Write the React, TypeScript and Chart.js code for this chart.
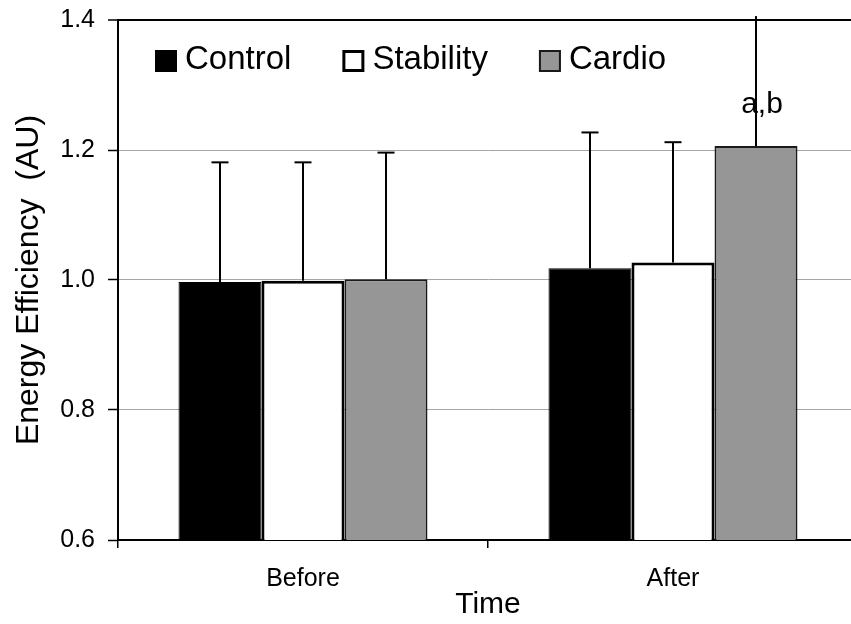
import { useEffect, useRef } from "react";
import { Chart, registerables } from "chart.js";

Chart.register(...registerables);

// Energy efficiency before / after training, by group
const categories = ["Before", "After"];
const seriesNames = ["Control", "Stability", "Cardio"];
const controlMean = [0.997, 1.018];
const stabilityMean = [0.999, 1.027];
const cardioMean = [1.001, 1.206];
const controlSD = [0.184, 0.209];
const stabilitySD = [0.182, 0.185];
const cardioSD = [0.195, 0.2];
const cardioNotes = ["", "a,b"];
const yTickValues = [0.6, 0.8, 1.0, 1.2, 1.4];

const FONT = "'Liberation Sans', Arial, Helvetica, sans-serif";
const Y_MIN = yTickValues[0];
const Y_MAX = yTickValues[yTickValues.length - 1];

const errorSets = [controlSD, stabilitySD, cardioSD];
const noteSets = [null, null, cardioNotes];

// Error bars (upper only) plus the significance note above a bar
const errorBarPlugin = {
  id: "errorBars",
  afterDatasetsDraw(chart: any) {
    const { ctx } = chart;
    const y = chart.scales.y;
    ctx.save();
    ctx.strokeStyle = "#000";
    ctx.lineWidth = 2;
    errorSets.forEach((sds, di) => {
      const meta = chart.getDatasetMeta(di);
      meta.data.forEach((bar: any, i: number) => {
        const mean = chart.data.datasets[di].data[i] as number;
        const upper = mean + sds[i];
        const yBase = y.getPixelForValue(mean);
        const yTop = y.getPixelForValue(upper);
        ctx.beginPath();
        ctx.moveTo(bar.x, yBase);
        ctx.lineTo(bar.x, yTop);
        ctx.stroke();
        if (upper <= y.max) {
          ctx.beginPath();
          ctx.moveTo(bar.x - 8.5, yTop);
          ctx.lineTo(bar.x + 8.5, yTop);
          ctx.stroke();
        }
        const notes = noteSets[di];
        if (notes && notes[i]) {
          ctx.fillStyle = "#000";
          ctx.font = `30px ${FONT}`;
          ctx.textAlign = "center";
          ctx.textBaseline = "alphabetic";
          ctx.fillText(notes[i], bar.x + 6, yBase - 33);
        }
      });
    });
    ctx.restore();
  },
};

// Horizontal legend drawn inside the plot area
const insideLegendPlugin = {
  id: "insideLegend",
  afterDraw(chart: any) {
    const { ctx, chartArea } = chart;
    const box = 22;
    let x = chartArea.left + 37;
    const top = chartArea.top + 30;
    ctx.save();
    ctx.font = `33px ${FONT}`;
    ctx.textBaseline = "middle";
    ctx.textAlign = "left";
    chart.data.datasets.forEach((ds: any) => {
      const bw = ds.borderWidth || 0;
      ctx.fillStyle = ds.backgroundColor;
      ctx.fillRect(x, top, box, box);
      if (bw > 0) {
        ctx.strokeStyle = ds.borderColor;
        ctx.lineWidth = bw;
        ctx.strokeRect(x + bw / 2, top + bw / 2, box - bw, box - bw);
      }
      const tx = x + box + 8;
      ctx.fillStyle = "#000";
      ctx.fillText(ds.label, tx, top + box / 2 - 1);
      x = tx + ctx.measureText(ds.label).width + 51;
    });
    ctx.restore();
  },
};

export default function App() {
  const canvasRef = useRef<HTMLCanvasElement | null>(null);

  useEffect(() => {
    if (!canvasRef.current) return;
    const chart = new Chart(canvasRef.current, {
      type: "bar",
      data: {
        labels: categories,
        datasets: [
          {
            label: seriesNames[0],
            data: controlMean,
            backgroundColor: "#000000",
            borderColor: "#000000",
            borderWidth: 1,
          },
          {
            label: seriesNames[1],
            data: stabilityMean,
            backgroundColor: "#ffffff",
            borderColor: "#000000",
            borderWidth: 3,
            borderSkipped: false,
          },
          {
            label: seriesNames[2],
            data: cardioMean,
            backgroundColor: "#969696",
            borderColor: "#1a1a1a",
            borderWidth: 2,
          },
        ],
      },
      options: {
        animation: false,
        responsive: false,
        devicePixelRatio: 1,
        layout: { padding: { top: 20, left: 0, right: 0, bottom: 0 } },
        datasets: {
          bar: { categoryPercentage: 0.673, barPercentage: 1.0 },
        },
        plugins: {
          legend: { display: false },
          tooltip: { enabled: false },
        },
        scales: {
          x: {
            type: "category",
            offset: true,
            grid: {
              offset: true,
              drawOnChartArea: false,
              drawTicks: true,
              tickLength: 8,
              color: "#000",
              lineWidth: 1.5,
            },
            border: { color: "#000", width: 2 },
            ticks: {
              color: "#000",
              padding: 16,
              font: { family: FONT, size: 25 },
            },
            title: {
              display: true,
              text: "Time",
              color: "#000",
              font: { family: FONT, size: 30 },
              padding: { top: 0, bottom: 1 },
            },
            afterFit: (s: any) => {
              s.height = 84;
              s.paddingLeft = 0;
              s.paddingRight = 0;
            },
          },
          y: {
            type: "linear",
            min: Y_MIN,
            max: Y_MAX,
            afterBuildTicks: (s: any) => {
              s.ticks = yTickValues.map((v) => ({ value: v }));
            },
            grid: {
              drawTicks: true,
              tickLength: 10,
              tickColor: "#000",
              tickWidth: 1.5,
              color: (c: any) =>
                c.tick && Math.abs(c.tick.value - Y_MAX) < 1e-9 ? "#000" : "#a6a6a6",
              lineWidth: (c: any) =>
                c.tick && Math.abs(c.tick.value - Y_MAX) < 1e-9 ? 2 : 1,
            },
            border: { color: "#000", width: 2 },
            ticks: {
              color: "#000",
              padding: 13,
              font: { family: FONT, size: 25 },
              callback: (v: any) => Number(v).toFixed(1),
            },
            title: {
              display: true,
              text: "Energy Efficiency  (AU)",
              color: "#000",
              font: { family: FONT, size: 32 },
              padding: { top: 10, bottom: 0 },
            },
            afterFit: (s: any) => {
              s.width = 118;
              s.paddingTop = 0;
              s.paddingBottom = 0;
            },
          },
        },
      },
      plugins: [errorBarPlugin, insideLegendPlugin],
    } as any);
    return () => chart.destroy();
  }, []);

  return (
    <div
      style={{
        position: "absolute",
        left: 0,
        top: 0,
        width: 851,
        height: 624,
        overflow: "hidden",
        background: "#fff",
      }}
    >
      <canvas ref={canvasRef} width={858} height={624} style={{ display: "block" }} />
    </div>
  );
}
